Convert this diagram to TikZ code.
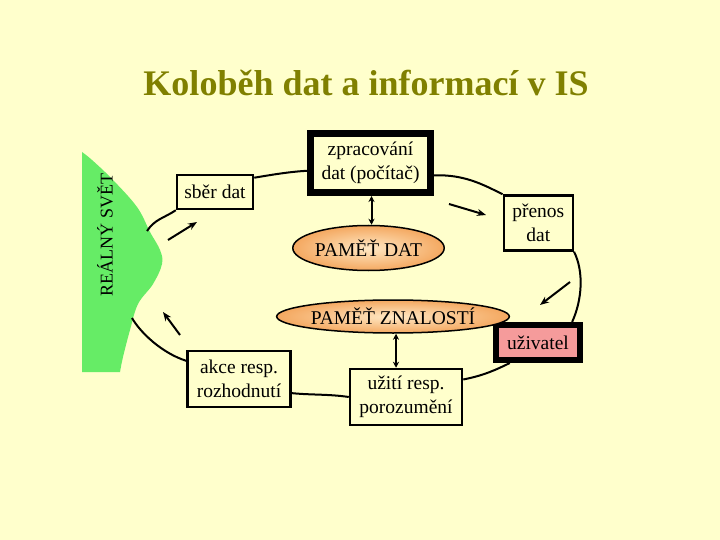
\documentclass[tikz,border=0pt]{standalone}
\usepackage{fontspec}
\setmainfont{Liberation Serif}
\usetikzlibrary{arrows.meta,shapes.geometric,calc}
\definecolor{bgyellow}{RGB}{255,255,204}
\definecolor{olivet}{RGB}{128,128,0}
\definecolor{worldgreen}{RGB}{102,236,102}
\definecolor{orin}{RGB}{255,232,196}
\definecolor{orout}{RGB}{244,168,96}
\definecolor{pinkf}{RGB}{245,155,155}
\tikzset{
  box/.style={draw=black, line width=2.5pt, rectangle, align=center, inner sep=1pt,
              font=\fontsize{19.5}{24}\selectfont},
  thickbox/.style={box, line width=7pt},
  mem/.style={draw=black, line width=1.5pt, ellipse, inner sep=0pt,
              inner color=orin, outer color=orout, font=\fontsize{19.5}{24}\selectfont},
  ring/.style={line width=2pt, draw=black},
  flow/.style={line width=2pt, -{Stealth[length=9pt,width=7pt]}},
  darr/.style={line width=2pt, {Stealth[length=6pt,width=6pt]}-{Stealth[length=6pt,width=6pt]}}
}
\begin{document}
\begin{tikzpicture}[x=1pt,y=-1pt]
\useasboundingbox (0,0) rectangle (720,540);
\fill[bgyellow] (0,0) rectangle (720,540);

% title
\node[text=olivet, font=\fontsize{36}{40}\selectfont\bfseries] (title) at (366,83) {Koloběh dat a informací v IS};

% real world
\fill[worldgreen] (82,152) -- plot[smooth, tension=0.6] coordinates {(82,152) (92,160) (112,179) (137,207) (150,232) (160,250) (162,264) (153,284) (138,304) (130,330) (123,357) (120,372)} -- (82,372) -- cycle;
\node[rotate=90, font=\fontsize{18}{20}\selectfont] (world) at (105,235) {REÁLNÝ SVĚT};
\coordinate (g1) at (147,231);
\coordinate (g2) at (132,318);

% nodes
\node[box, minimum width=76pt, minimum height=34pt] (sber) at (215,192) {sběr dat};
\node[thickbox, minimum width=120pt, minimum height=59pt] (zpr) at (370.5,163) {zpracování\\dat (počítač)};
\node[mem, minimum width=136pt, minimum height=45pt] (pd) at (368.5,248) {PAMĚŤ DAT};
\node[box, minimum width=69pt, minimum height=55pt] (prenos) at (538.3,223) {přenos\\dat};
\node[thickbox, line width=6pt, fill=pinkf, minimum width=84pt, minimum height=35pt] (uziv) at (538,342.5) {uživatel};
\node[mem, minimum width=200pt, minimum height=33pt] (pz) at (393,316.5) {PAMĚŤ ZNALOSTÍ};
\node[box, minimum width=103pt, minimum height=56pt] (akce) at (239,379) {akce resp.\\rozhodnutí};
\node[box, minimum width=112pt, minimum height=56pt] (uziti) at (406,397) {užití resp.\\porozumění};

% ring connectors
\draw[ring] (g1) .. controls +(8,-12) and +(-12,8) .. (sber.south west);
\draw[ring] (sber.20) .. controls +(18,-3) and +(-18,1) .. (zpr.-173);
\draw[ring] (zpr.-11) .. controls +(30,-1) and +(-20,-10) .. (prenos.north west);
\draw[ring] (prenos.south east) .. controls +(10,20) and +(10,-22) .. (uziv.31);
\draw[ring] (uziv.-144) .. controls +(-20,10) and +(15,-3) .. (uziti.17);
\draw[ring] (uziti.west) .. controls +(-20,-3) and +(20,2) .. (akce.-15);
\draw[ring] (akce.161) .. controls +(-25,-8) and +(8,14) .. (g2);

% memory links
\draw[darr] ([xshift=1pt]zpr.south) -- ([xshift=3pt]pd.north);
\draw[darr] ([xshift=3pt]pz.south) -- ([xshift=-10pt]uziti.north);

% flow arrows
\draw[flow] (168,240) -- (197,222);
\draw[flow] (449,204) -- (486,215);
\draw[flow] (570,282) -- (540,305);
\draw[flow] (180,335) -- (163,312);
\end{tikzpicture}
\end{document}
